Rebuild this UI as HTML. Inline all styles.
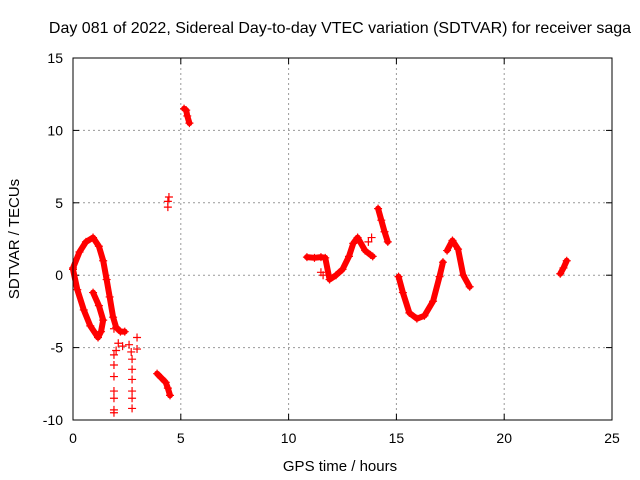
<!DOCTYPE html>
<html><head><meta charset="utf-8"><style>
body{margin:0;background:#fff}
svg{display:block;font-family:"Liberation Sans",sans-serif}
</style></head><body>
<svg id="c" width="640" height="480">
<text x="340" y="33" font-size="16" text-anchor="middle">Day 081 of 2022, Sidereal Day-to-day VTEC variation (SDTVAR) for receiver saga</text>
<text x="340" y="471" font-size="15" text-anchor="middle">GPS time / hours</text>
<text transform="translate(19,239) rotate(-90)" font-size="15" text-anchor="middle">SDTVAR / TECUs</text>
<g id="grid"></g><g id="ticks"></g><g id="marks"></g>
<rect x="73" y="58" width="539" height="362" fill="none" stroke="#000" stroke-width="1"/>
</svg>
<script>
const xTicks=[0,5,10,15,20,25];
const yTicks=[-10,-5,0,5,10,15];
const loopUpper=[[0,0.5],[0.3,1.6],[0.6,2.3],[0.93,2.6],[1.2,2.0],[1.4,1.0],[1.56,-0.3],[1.7,-1.5],[1.86,-2.9],[2.0,-3.6],[2.2,-3.9],[2.4,-3.9]];
const loopLower=[[0,0.4],[0.2,-1.0],[0.5,-2.4],[0.8,-3.5],[1.16,-4.3],[1.3,-3.9],[1.4,-3.1],[1.2,-2.1],[0.93,-1.2]];
const cluster=[[1.9,-3.7],[2.1,-4.7],[2.3,-4.9],[2.0,-5.2]];
const col1=[[1.9,-5.5],[1.9,-6.2],[1.9,-7.0],[1.9,-8.0],[1.9,-8.5],[1.9,-9.3],[1.9,-9.5]];
const col2=[[2.6,-4.8],[2.7,-5.3],[2.74,-5.8],[2.74,-6.5],[2.74,-7.2],[2.74,-8.0],[2.74,-8.5],[2.74,-9.2],[2.97,-4.3],[2.97,-5.1]];
const seg4=[[3.9,-6.8],[4.1,-7.1],[4.3,-7.4],[4.4,-7.8],[4.5,-8.3]];
const seg5=[[4.4,4.7],[4.4,5.1],[4.45,5.4]];
const seg6=[[5.15,11.5],[5.25,11.4],[5.3,11.0],[5.4,10.5]];
const seg7=[[10.85,1.25],[11.2,1.2],[11.5,1.25],[11.7,1.2],[11.9,-0.3],[12.2,0.0],[12.5,0.4],[12.8,1.3],[13.0,2.2],[13.2,2.6],[13.55,1.7],[13.8,1.4],[13.9,1.3]];
const seg7b=[[11.5,0.2],[11.6,0.0],[13.7,2.3],[13.85,2.6]];
const seg8=[[14.15,4.6],[14.3,3.8],[14.45,3.0],[14.6,2.3]];
const seg9=[[15.1,-0.1],[15.3,-1.2],[15.6,-2.6],[15.95,-3.0],[16.3,-2.8],[16.7,-1.8],[17.0,-0.1],[17.16,0.9]];
const seg10=[[17.35,1.7],[17.6,2.4],[17.86,1.8],[18.1,0.0],[18.4,-0.8]];
const seg11=[[22.6,0.1],[22.75,0.5],[22.9,1.0]];
const X=t=>73+t*539/25, Y=v=>58+(15-v)*362/25;
const NS="http://www.w3.org/2000/svg";
const mk=(tag,p,attrs)=>{const e=document.createElementNS(NS,tag);for(const k in attrs)e.setAttribute(k,attrs[k]);p.appendChild(e);return e;};
const grid=document.getElementById('grid'),ticks=document.getElementById('ticks'),marks=document.getElementById('marks');
xTicks.forEach(t=>{
 if(t>0&&t<25){const l=mk('line',grid,{x1:X(t),x2:X(t),y1:58,y2:420,stroke:'#999','stroke-dasharray':'2,3'});
 
 }
 mk('line',ticks,{x1:X(t),x2:X(t),y1:420,y2:414,stroke:'#000'});
 mk('line',ticks,{x1:X(t),x2:X(t),y1:58,y2:64,stroke:'#000'});
 const tx=mk('text',ticks,{x:X(t),y:443,'font-size':14,'text-anchor':'middle'});tx.textContent=t;
 
 
});
yTicks.forEach(v=>{
 if(v>-10&&v<15){const l=mk('line',grid,{x1:73,x2:612,y1:Y(v),y2:Y(v),stroke:'#999','stroke-dasharray':'2,3'});
 
 }
 mk('line',ticks,{x1:73,x2:79,y1:Y(v),y2:Y(v),stroke:'#000'});
 mk('line',ticks,{x1:612,x2:606,y1:Y(v),y2:Y(v),stroke:'#000'});
 const tx=mk('text',ticks,{x:63,y:Y(v)+5,'font-size':14,'text-anchor':'end'});tx.textContent=v;
 
 
});
const lines=[loopUpper,loopLower,seg4,seg6,seg7,seg8,seg9,seg10,seg11];
lines.forEach(s=>{
 const pl=mk('polyline',marks,{points:s.map(p=>X(p[0])+','+Y(p[1])).join(' '),fill:'none',stroke:'#f00','stroke-width':6,'stroke-linejoin':'round','stroke-linecap':'round'});
 
 
});
[loopUpper,loopLower,cluster,col1,col2,seg4,seg5,seg6,seg7,seg7b,seg8,seg9,seg10,seg11].forEach(s=>s.forEach(p=>{
 const x=X(p[0]),y=Y(p[1]);
 const g=mk('path',marks,{d:`M${x-4},${y}h8M${x},${y-4}v8`,stroke:'#f00','stroke-width':1.2});
 
 
}));
</script>
</body></html>
